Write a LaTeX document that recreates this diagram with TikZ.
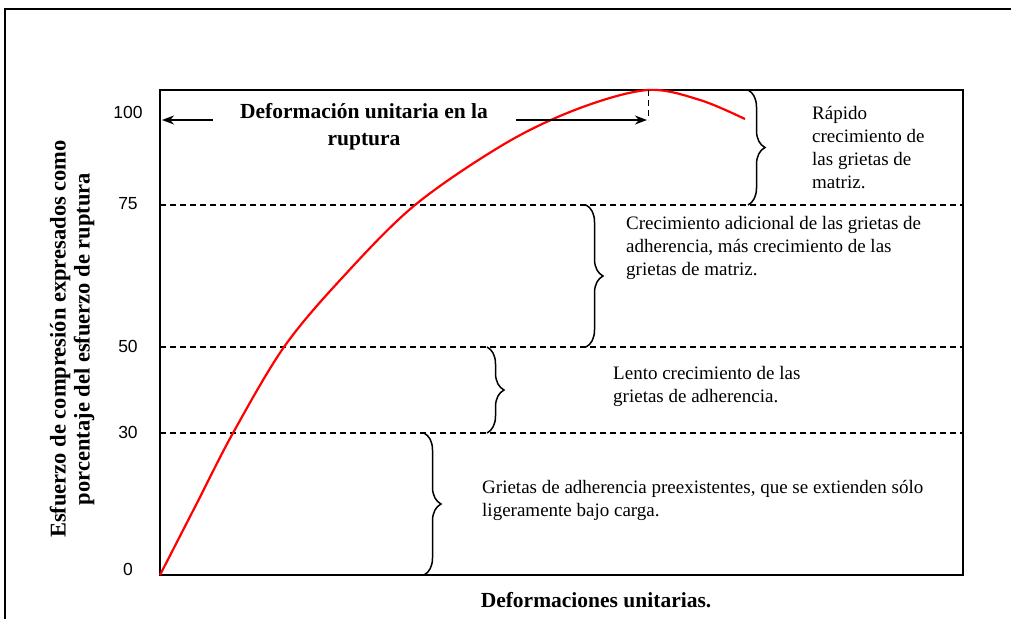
\documentclass[tikz,border=0pt]{standalone}
\usepackage{fontspec}
\setmainfont{Liberation Serif}
\setsansfont{Liberation Sans}
\usetikzlibrary{arrows.meta,decorations.pathreplacing,positioning}

\begin{document}
\begin{tikzpicture}[
    x = 1pt, y = -1pt, >={[scale = 1.3]Stealth},
    txt/.style  = {anchor = base west, align = left, inner sep = 0pt, font = \fontsize{19}{23}\selectfont},
    tick/.style = {inner sep = 0pt, font = \sffamily\fontsize{17.5}{20}\selectfont},
    ttl/.style  = {align = center, inner sep = 0pt, font = \bfseries\fontsize{21.5}{27}\selectfont},
    lvl/.style  = {line width = 1.2pt, dash pattern = on 6pt off 4pt},
    brc/.style  = {decorate, decoration = {brace, amplitude = 17pt}, line width = 1.5pt}
    ]
\useasboundingbox (0, 0) rectangle (1011, 619);

\def\XL{160}  % left side of the plot
\def\XR{963}  % right side of the plot
\def\YT{90}   % top of the plot
\def\YB{575}  % bottom of the plot

    % outer frame, cut by the page
    \draw [line width = 1.2pt] (5, 619) -- (5, 9) -- (1011, 9);
    \draw [line width = 1.2pt] (\XL, \YT) rectangle (\XR, \YB);

    % stress levels
    \node [tick] (t100) at (128, 112) {100};
    \node [tick] (t0)   at (128, 569) {0};
    \foreach \v/\y in {75/205, 50/347, 30/433}{
        \draw [lvl] (\XL, \y) -- (\XR, \y);
        \node [tick] (t\v) at (128, \y - 1) {\v};
        }

    % stress-strain curve
    \draw [red, line width = 2.2pt] plot [smooth, tension = 0.55] coordinates {
        (160, 575) (197, 503) (233, 433) (284, 347) (342, 278) (415, 205)
        (506, 143) (580, 108) (648, 90) (700, 100) (745, 119)};

    % strain at rupture
    \node [ttl] (dur) at (364, 127) {Deformación unitaria en la\\ruptura};
    \coordinate (rupL) at (162, 120);
    \coordinate (rupR) at (647, 120);
    \coordinate (rupA) at (213, 120);
    \coordinate (rupB) at (516, 120);
    \coordinate (pk)   at (648, \YT);
    \draw [->, line width = 1.4pt] (rupA) -- (rupL);
    \draw [->, line width = 1.4pt] (rupB) -- (rupR);
    \draw [lvl, line width = 1pt] (pk) -- (pk |- rupR);

    % braces
    \foreach \xa/\ya/\yb in {748/90/205, 586/205/347, 487/347/433, 424/433/575}{
        \draw [brc] (\xa, \ya) -- (\xa, \yb);
        }

    % the base is that of the last line
    \node [txt] (rap) at (812, 188) {Rápido\\crecimiento de\\las grietas de\\matriz.};
    \node [txt] (adi) at (626, 275) {Crecimiento adicional de las grietas de\\adherencia, más crecimiento de las\\grietas de matriz.};
    \node [txt] (len) at (613, 402) {Lento crecimiento de las\\grietas de adherencia.};
    \node [txt] (pre) at (482, 516) {Grietas de adherencia preexistentes, que se extienden sólo\\ligeramente bajo carga.};

    % axis labels
    \node [ttl, rotate = 90, font = \bfseries\fontsize{22.5}{24}\selectfont] (ylab) at (72, 339)
        {Esfuerzo de compresión expresados como\\porcentaje del esfuerzo de ruptura};
    \node [ttl] (xlab) at (596, 600) {Deformaciones unitarias.};
\end{tikzpicture}
\end{document}
